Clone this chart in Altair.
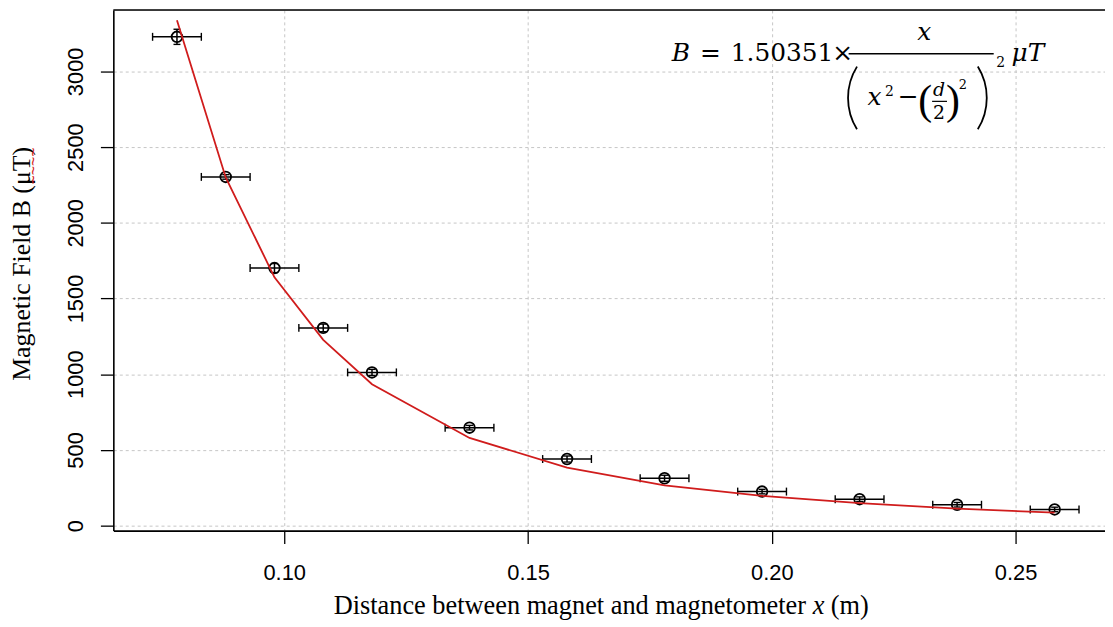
import altair as alt
import pandas as pd

# ---- data ----
distance = [0.078, 0.088, 0.098, 0.108, 0.118, 0.138, 0.158, 0.178, 0.198, 0.218, 0.238, 0.258]
field = [3228, 2303, 1701, 1306, 1012, 647, 440, 313, 225, 175, 138, 107]
fit = [3338, 2299, 1640, 1227, 934, 579, 383, 266, 197, 149, 112, 86]
x_err = [0.005, 0.005, 0.005, 0.005, 0.005, 0.005, 0.005, 0.005, 0.005, 0.005, 0.005, 0.005]
b_err = [50, 15, 30, 25, 20, 15, 20, 20, 15, 15, 15, 15]
x_ticks = [0.10, 0.15, 0.20, 0.25]
y_ticks = [0, 500, 1000, 1500, 2000, 2500, 3000]

df = pd.DataFrame({"x": distance, "B": field, "fit": fit, "xe": x_err, "be": b_err})
df["xlo"] = df["x"] - df["xe"]
df["xhi"] = df["x"] + df["xe"]
df["blo"] = df["B"] - df["be"]
df["bhi"] = df["B"] + df["be"]

W, H = 998, 524
xs = alt.Scale(domain=[0.06495, 0.26833], nice=False, zero=False)
ys = alt.Scale(domain=[-32.8, 3405.5], nice=False, zero=False)

grid = dict(grid=True, gridColor="#c6c6c6", gridDash=[3, 3], gridWidth=1,
            domainColor="black", domainWidth=1.6, tickColor="black", tickWidth=1.3,
            tickSize=13, labelFont="Liberation Sans", labelFontSize=22, labelColor="black")

x_axis = alt.Axis(values=x_ticks, format=".2f", title=None, labelPadding=19, **grid)
y_axis = alt.Axis(values=y_ticks, format="d", title="Magnetic Field B (\u03bcT)",
                  labelAngle=-90, labelAlign="center", labelBaseline="alphabetic", labelPadding=18,
                  titleFont="Liberation Serif", titleFontSize=26, titleFontWeight="normal",
                  titleColor="black", titleX=-84, titleY=255, titleAngle=-90,
                  titleBaseline="alphabetic", titleAlign="center", **grid)

base = alt.Chart(df)

points = base.mark_point(shape="circle", filled=False, size=115, strokeWidth=1.8,
                         color="black", opacity=1).encode(
    x=alt.X("x:Q", scale=xs, axis=x_axis),
    y=alt.Y("B:Q", scale=ys, axis=y_axis),
)
hbar = base.mark_rule(color="black", strokeWidth=1.5).encode(
    x=alt.X("xlo:Q", scale=xs), x2="xhi:Q", y=alt.Y("B:Q", scale=ys))
hcap_l = base.mark_tick(orient="vertical", size=8, thickness=1.4, color="black", opacity=1).encode(
    x=alt.X("xlo:Q", scale=xs), y=alt.Y("B:Q", scale=ys))
hcap_r = base.mark_tick(orient="vertical", size=8, thickness=1.4, color="black", opacity=1).encode(
    x=alt.X("xhi:Q", scale=xs), y=alt.Y("B:Q", scale=ys))
vbar = base.mark_rule(color="black", strokeWidth=1.5).encode(
    x=alt.X("x:Q", scale=xs), y=alt.Y("blo:Q", scale=ys), y2="bhi:Q")
vcap_l = base.mark_tick(orient="horizontal", size=7, thickness=1.4, color="black", opacity=1).encode(
    x=alt.X("x:Q", scale=xs), y=alt.Y("blo:Q", scale=ys))
vcap_h = base.mark_tick(orient="horizontal", size=7, thickness=1.4, color="black", opacity=1).encode(
    x=alt.X("x:Q", scale=xs), y=alt.Y("bhi:Q", scale=ys))
line = base.mark_line(color="#d01c1c", strokeWidth=1.8).encode(
    x=alt.X("x:Q", scale=xs), y=alt.Y("fit:Q", scale=ys))

one = pd.DataFrame({"a": [0]})


def txt(s, x, y, size, font="DejaVu Serif", style="normal", align="center",
        baseline="alphabetic", color="black", angle=0):
    return alt.Chart(one).mark_text(text=s, font=font, fontSize=size, fontStyle=style,
                                    align=align, baseline=baseline, color=color,
                                    angle=angle).encode(
        x=alt.value(x), y=alt.value(y))


def hline(x1, x2, y, w=1.5):
    return alt.Chart(one).mark_rule(color="black", strokeWidth=w).encode(
        x=alt.value(x1), x2=alt.value(x2), y=alt.value(y))


def paren(cx, cy, r, t1, t2):
    return alt.Chart(one).mark_arc(radius=r, radius2=r, theta=t1, theta2=t2, filled=False,
                                   stroke="black", strokeWidth=1.8, fill="transparent").encode(
        x=alt.value(cx), y=alt.value(cy))


frame_top = hline(0, W, 0, 1.6)

# spell-check squiggle under "μT" in the y title
squiggle = txt("~~~~", -80, 157, 16, font="Liberation Sans", color="#d42020", angle=270,
               baseline="middle")

# x axis title with italic x
xt_y = 608
xtitle = [
    txt("Distance between magnet and magnetometer", 697, xt_y, 26.5, font="Liberation Serif", align="right"),
    txt("x", 704, xt_y, 26.5, font="Liberation Serif", style="italic", align="left"),
    txt("(m)", 722, xt_y, 26.5, font="Liberation Serif", align="left"),
]

# formula
formula = [
    txt("B", 562, 51, 25, style="italic", align="left"),
    txt("=", 601, 51, 25),
    txt("1.50351", 673, 51, 25),
    txt("\u00d7", 734, 51, 25),
    hline(740, 886, 44),
    txt("x", 816, 30, 25, style="italic"),
    txt("\u03bcT", 904, 51, 25, style="italic", align="left"),
    paren(799, 88.5, 59.6, 4.156, 5.269),
    paren(819.4, 88.5, 59.6, 1.014, 2.128),
    txt("2", 893, 57, 14),
    txt("x", 766, 96, 25, style="italic"),
    txt("2", 781, 87, 14),
    txt("\u2212", 800, 96, 25),
    txt("(", 817, 105, 42, font="Liberation Serif"),
    txt("d", 831, 87, 19, style="italic"),
    hline(824, 839, 92, 1.2),
    txt("2", 831, 110, 19),
    txt(")", 845, 105, 42, font="Liberation Serif"),
    txt("2", 855, 80, 13),
]

chart = alt.layer(
    points, hbar, hcap_l, hcap_r, vbar, vcap_l, vcap_h, line, frame_top, squiggle, *xtitle, *formula
).properties(
    width=W, height=H,
    padding={"left": 106, "top": 0, "right": 0, "bottom": 90},
    autosize=alt.AutoSizeParams(type="none"),
).configure_view(stroke=None).configure(background="white")

chart.save("out.html", embed_options={"renderer": "svg", "actions": False})
